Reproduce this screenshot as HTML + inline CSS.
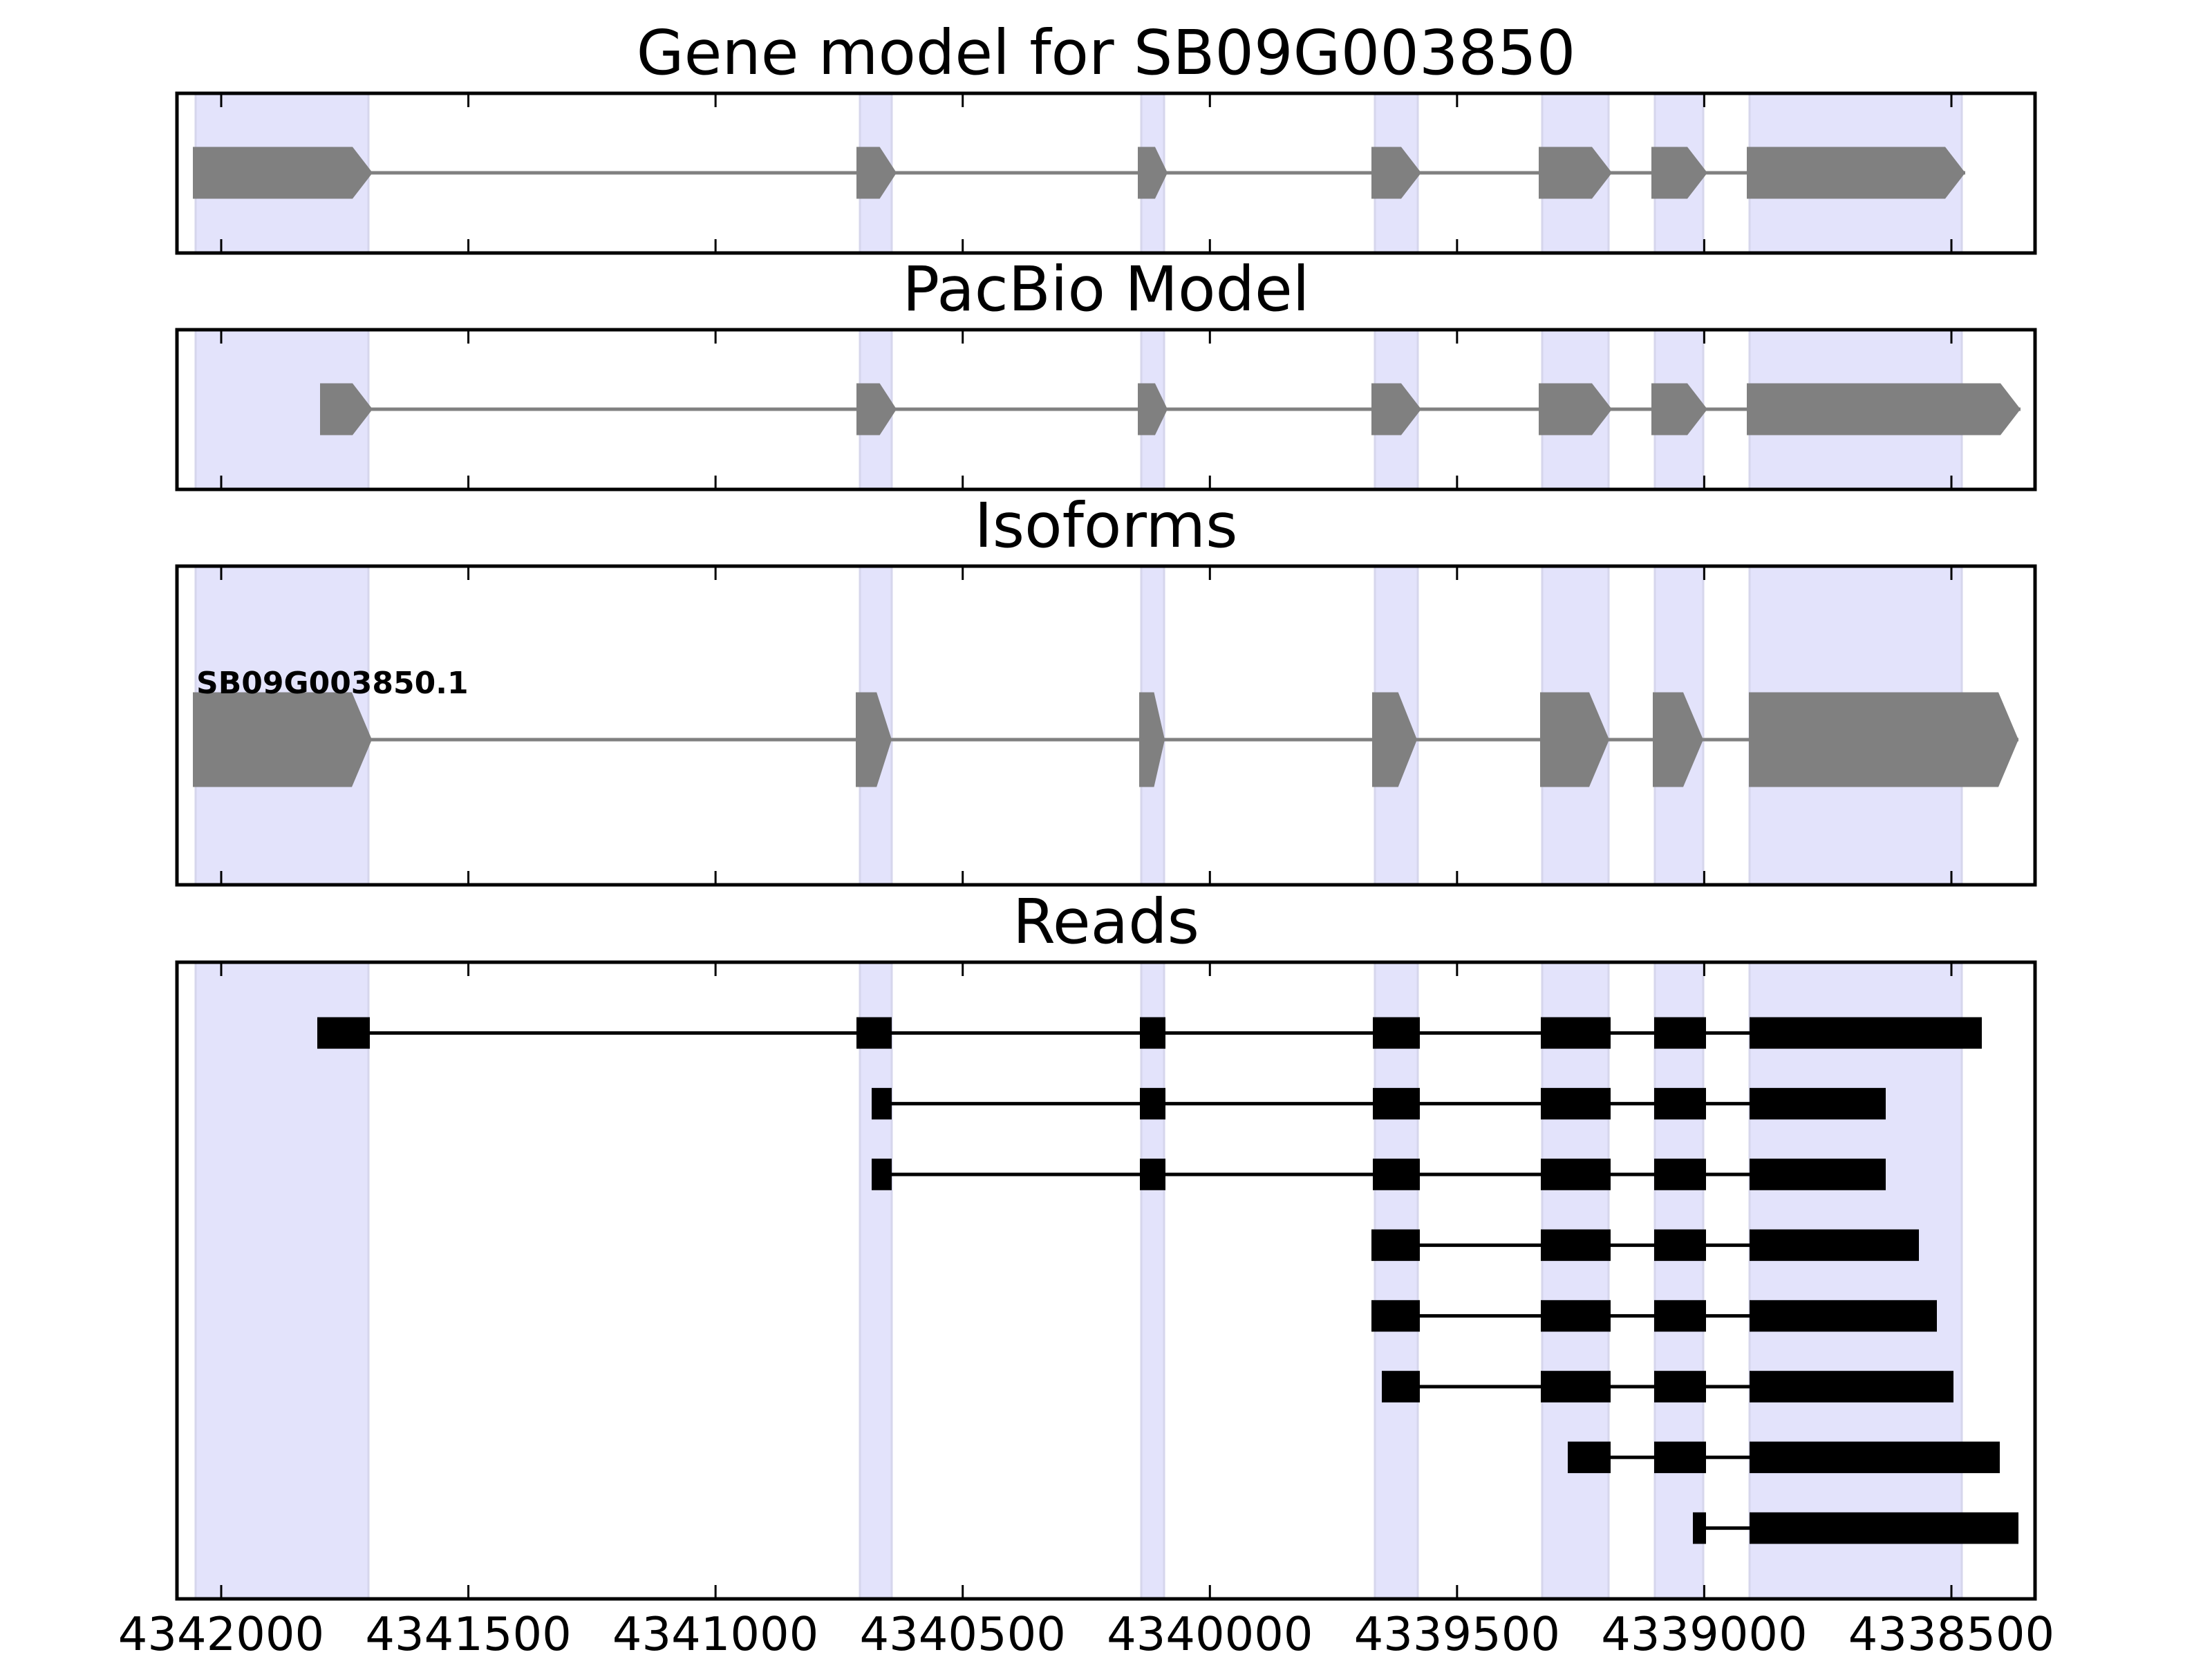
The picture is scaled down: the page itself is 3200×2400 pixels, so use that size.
<!DOCTYPE html>
<html><head><meta charset="utf-8"><style>
html,body{margin:0;padding:0;background:#fff;}
svg{display:block;}
text{font-family:"DejaVu Sans","Liberation Sans",sans-serif;}
</style></head><body>
<svg width="3200" height="2400" viewBox="0 0 3200 2400" xmlns="http://www.w3.org/2000/svg">
<rect width="3200" height="2400" fill="#fff"/>
<g id="c"></g>
</svg>
<script>
(function(){
var g=document.getElementById('c'),out='';
var L=256,R=2944;
var panels=[[135,366,'Gene model for SB09G003850'],[477,708,'PacBio Model'],[819,1280,'Isoforms'],[1392,2313,'Reads']];
var shades=[[283,533],[1244,1290],[1651,1684],[1989,2051],[2231,2327],[2394,2464],[2531,2838]];
function tip(w){return Math.min(29,0.42*w);}
function exonPoly(a,b,yc,h){var t=tip(b-a);var y0=yc-h/2,y1=yc+h/2;
return '<polygon points="'+a+','+y0+' '+(b-t)+','+y0+' '+b+','+yc+' '+(b-t)+','+y1+' '+a+','+y1+'" fill="#808080"/>';}
panels.forEach(function(p){
 var t=p[0],b=p[1];
 shades.forEach(function(s){out+='<rect x="'+s[0]+'" y="'+t+'" width="'+(s[1]-s[0])+'" height="'+(b-t)+'" fill="#e3e3fb" stroke="#d6d6ec" stroke-width="3"/>';});
 out+='<text x="1600" y="'+(t-28)+'" font-size="89" text-anchor="middle">'+p[2]+'</text>';
});
var gene=[[279,539],[1239,1297],[1646,1689],[1984,2056],[2226,2332],[2389,2470],[2527,2843]];
var pac=[[463,539],[1239,1297],[1646,1689],[1984,2056],[2226,2332],[2389,2470],[2527,2923]];
var iso=[[279,538],[1238,1290],[1648,1685],[1985,2050],[2228,2328],[2391,2464],[2530,2920]];
function model(ex,yc,h){
 out+='<line x1="'+ex[0][0]+'" y1="'+yc+'" x2="'+ex[ex.length-1][1]+'" y2="'+yc+'" stroke="#808080" stroke-width="5"/>';
 ex.forEach(function(e){out+=exonPoly(e[0],e[1],yc,h);});
}
model(gene,250,75);
model(pac,592,75);
model(iso,1070,137);
out+='<text x="284" y="1003" font-size="44" font-weight="bold">SB09G003850.1</text>';
var E1=[1649,1686],E4=[1986,2054],E5=[2229,2330],E6=[2393,2468];
var reads=[
 [[459,535],[1239,1290],E1,E4,E5,E6,[2531,2867]],
 [[1261,1290],E1,E4,E5,E6,[2531,2728]],
 [[1261,1290],E1,E4,E5,E6,[2531,2728]],
 [[1984,2054],E5,E6,[2531,2776]],
 [[1984,2054],E5,E6,[2531,2802]],
 [[1999,2054],E5,E6,[2531,2826]],
 [[2268,2330],E6,[2531,2893]],
 [[2449,2468],[2531,2920]]
];
reads.forEach(function(r,i){
 var yc=1392+102.33*(i+1),h=45.6;
 out+='<line x1="'+r[0][0]+'" y1="'+yc+'" x2="'+r[r.length-1][1]+'" y2="'+yc+'" stroke="#000" stroke-width="5"/>';
 r.forEach(function(e){out+='<rect x="'+e[0]+'" y="'+(yc-h/2)+'" width="'+(e[1]-e[0])+'" height="'+h+'" fill="#000"/>';});
});
panels.forEach(function(p){
 var t=p[0],b=p[1];
 for(var k=0;k<8;k++){var x=320+k*357.57;
  out+='<line x1="'+x+'" y1="'+t+'" x2="'+x+'" y2="'+(t+20)+'" stroke="#000" stroke-width="3"/>';
  out+='<line x1="'+x+'" y1="'+b+'" x2="'+x+'" y2="'+(b-20)+'" stroke="#000" stroke-width="3"/>';}
 out+='<rect x="'+L+'" y="'+t+'" width="'+(R-L)+'" height="'+(b-t)+'" fill="none" stroke="#000" stroke-width="5"/>';
});
for(var k=0;k<8;k++){var x=320+k*357.57;
 out+='<text x="'+x+'" y="2387" font-size="67" text-anchor="middle">'+(4342000-500*k)+'</text>';}
g.innerHTML=out;
})();
</script>
</body></html>
